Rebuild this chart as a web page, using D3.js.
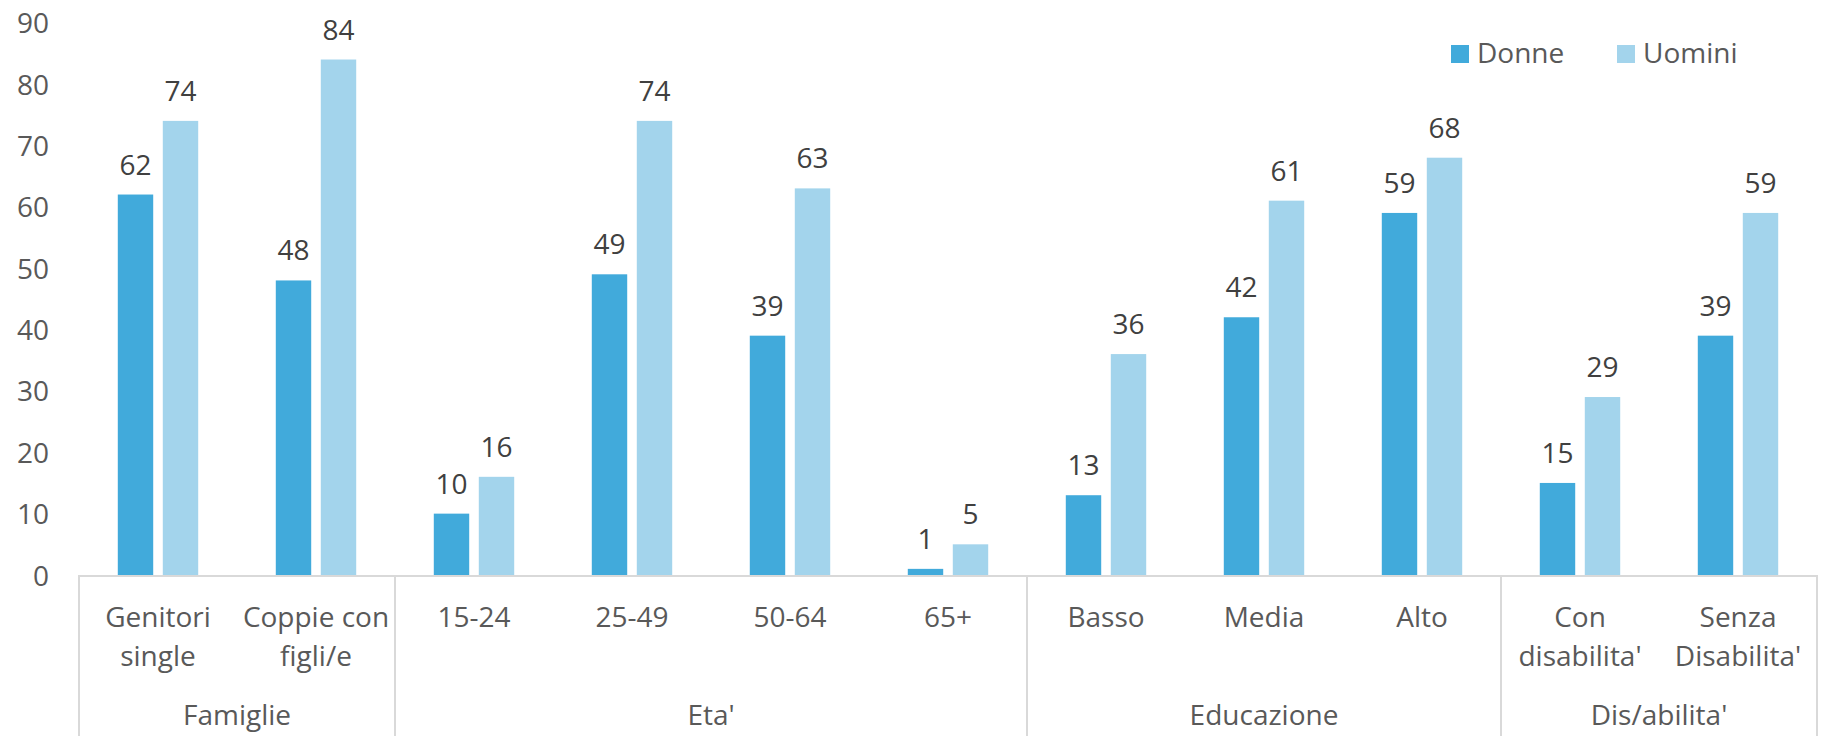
<!DOCTYPE html>
<html>
<head>
<meta charset="utf-8">
<script src="https://cdn.jsdelivr.net/npm/d3@7"></script>
<style>
  body { margin: 0; background: #fff; }
  svg text { font-family: "Open Sans", sans-serif; }
</style>
</head>
<body>
<svg id="chart" width="1826" height="742"></svg>
<script>
const categories = [
  ["Genitori", "single"], ["Coppie con", "figli/e"],
  ["15-24"], ["25-49"], ["50-64"], ["65+"],
  ["Basso"], ["Media"], ["Alto"],
  ["Con", "disabilita'"], ["Senza", "Disabilita'"]
];
const groups = ["Famiglie", "Eta'", "Educazione", "Dis/abilita'"];
const groupSizes = [2, 4, 3, 2];
const series = ["Donne", "Uomini"];
const donne = [62, 48, 10, 49, 39, 1, 13, 42, 59, 15, 39];
const uomini = [74, 84, 16, 74, 63, 5, 36, 61, 68, 29, 59];
const yTicks = [0, 10, 20, 30, 40, 50, 60, 70, 80, 90];
const colors = { Donne: "#41aadb", Uomini: "#a3d4ec" };

const svg = d3.select("svg#chart");
const plotLeft = 79, plotRight = 1817, base = 575, plotTop = 22.7;

const ids = categories.map((d, i) => i);
const x = d3.scaleBand().domain(ids).range([plotLeft, plotRight]).padding(0);
const x1 = d3.scaleBand().domain(series).range([0, x.bandwidth()])
  .paddingInner(0.213).paddingOuter(0.862);
const y = d3.scaleLinear().domain([0, 90]).range([base, plotTop]);

// Y axis labels (no line, no ticks)
const yAxis = d3.axisLeft(y).tickValues(yTicks).tickSize(0).tickPadding(0);
const gy = svg.append("g").attr("transform", `translate(49,0)`).call(yAxis);
gy.select(".domain").remove();
gy.selectAll("text")
  .style("font-size", "28px")
  .style("fill", "#595959")
  .attr("dy", "0.36em");

// bars
const rows = ids.map(i => ({ i, values: [
  { key: "Donne", v: donne[i] }, { key: "Uomini", v: uomini[i] }
] }));

const cat = svg.append("g").selectAll("g").data(rows).join("g")
  .attr("transform", d => `translate(${x(d.i)},0)`);

cat.selectAll("rect").data(d => d.values).join("rect")
  .attr("x", d => x1(d.key))
  .attr("width", x1.bandwidth())
  .attr("y", d => y(d.v))
  .attr("height", d => base - y(d.v))
  .attr("fill", d => colors[d.key]);

cat.selectAll("text").data(d => d.values).join("text")
  .attr("x", d => x1(d.key) + x1.bandwidth() / 2)
  .attr("y", d => y(d.v) - 20)
  .attr("text-anchor", "middle")
  .style("font-size", "28px")
  .style("fill", "#404040")
  .text(d => d.v);

// category axis
const axis = svg.append("g");
axis.append("line")
  .attr("x1", plotLeft).attr("x2", plotRight)
  .attr("y1", base + 1).attr("y2", base + 1)
  .attr("stroke", "#d9d9d9").attr("stroke-width", 2);

const catLabels = axis.selectAll("text.cat").data(ids).join("text")
  .attr("class", "cat")
  .attr("text-anchor", "middle")
  .style("font-size", "28px")
  .style("fill", "#595959");
catLabels.selectAll("tspan").data(i => categories[i].map(t => ({ t, i }))).join("tspan")
  .attr("x", d => x(d.i) + x.bandwidth() / 2)
  .attr("y", (d, k) => 627 + k * 39)
  .text(d => d.t);

// group separators and labels
let start = 0;
const groupData = groups.map((g, k) => {
  const o = { name: g, first: start, last: start + groupSizes[k] - 1 };
  start += groupSizes[k];
  return o;
});
const bounds = [plotLeft].concat(groupData.map(g => x(g.last) + x.bandwidth()));
axis.selectAll("line.sep").data(bounds).join("line")
  .attr("class", "sep")
  .attr("x1", d => d).attr("x2", d => d)
  .attr("y1", base).attr("y2", 736)
  .attr("stroke", "#d9d9d9").attr("stroke-width", 2);

axis.selectAll("text.grp").data(groupData).join("text")
  .attr("class", "grp")
  .attr("x", d => (x(d.first) + x(d.last) + x.bandwidth()) / 2)
  .attr("y", 725)
  .attr("text-anchor", "middle")
  .style("font-size", "28px")
  .style("fill", "#595959")
  .text(d => d.name);

// legend
const legendX = [1451, 1617];
const legend = svg.append("g").selectAll("g").data(series).join("g")
  .attr("transform", (d, k) => `translate(${legendX[k]},45)`);
legend.append("rect").attr("width", 18).attr("height", 18)
  .attr("fill", d => colors[d]);
legend.append("text").attr("x", 26).attr("y", 18)
  .style("font-size", "28px").style("fill", "#595959")
  .text(d => d);
</script>
</body>
</html>
